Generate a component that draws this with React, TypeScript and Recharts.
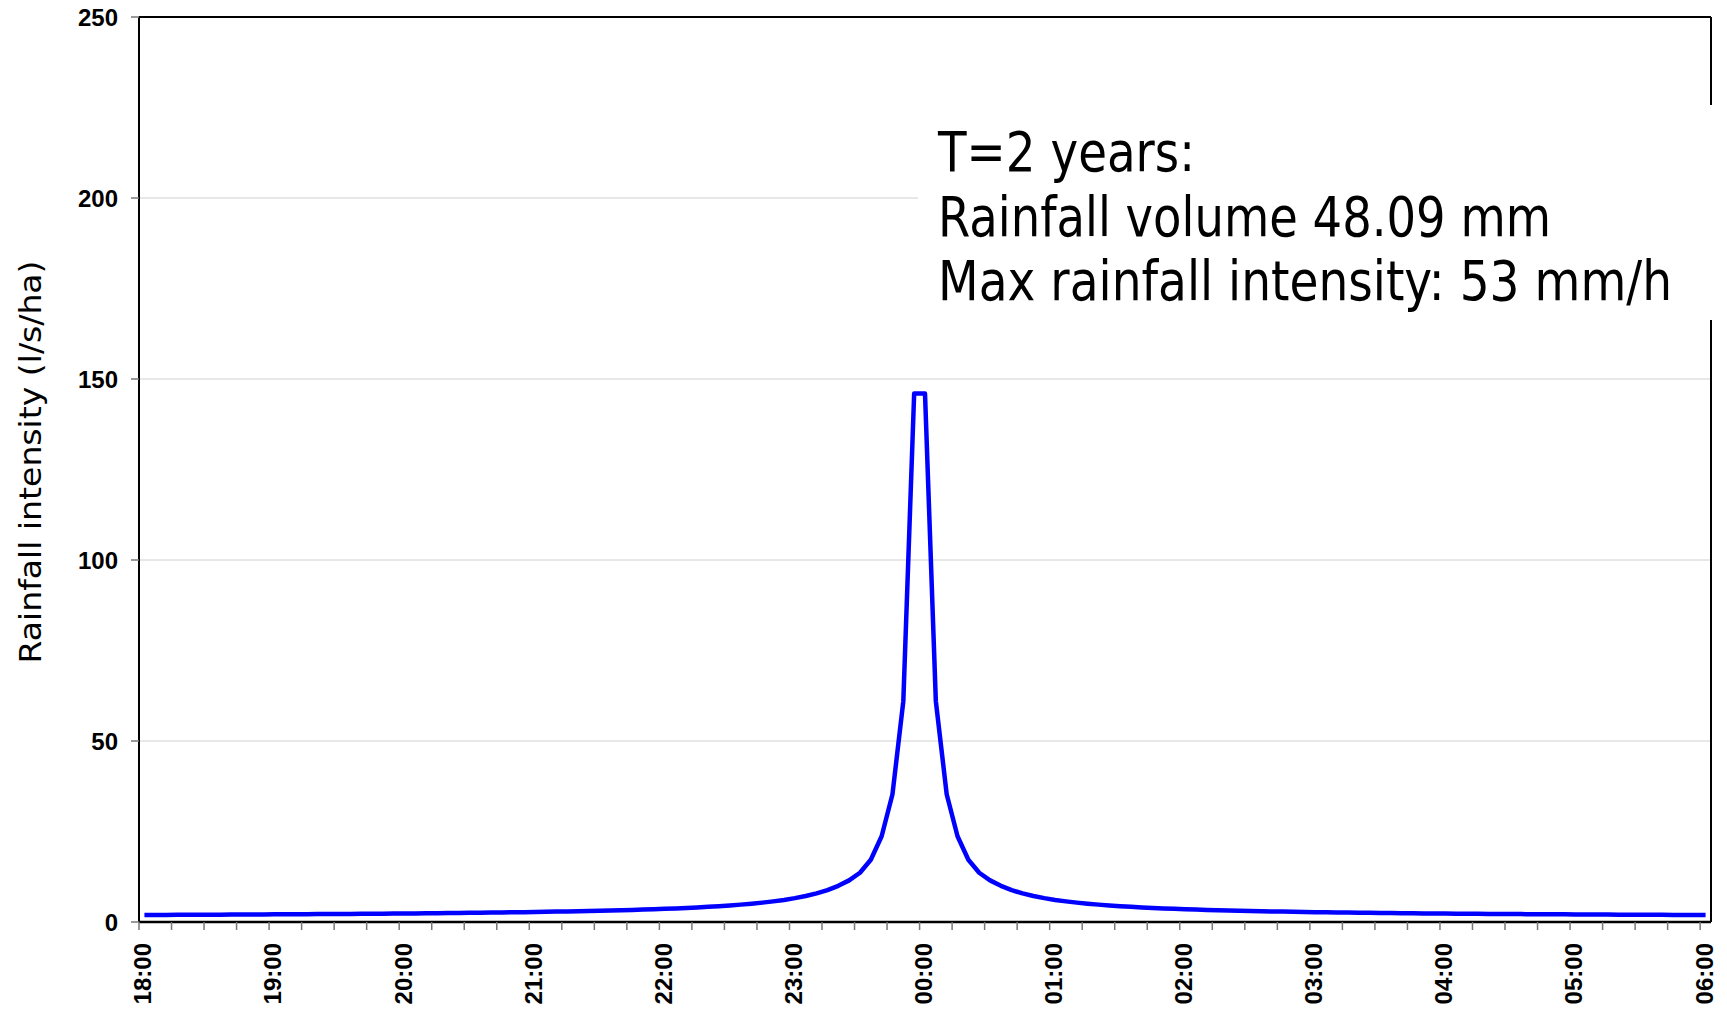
import React from 'react';
import { LineChart, Line, XAxis, YAxis, CartesianGrid, ReferenceLine } from 'recharts';

// intensita' in l/s/ha, passo 5 minuti dalle 18:00 alle 06:00
const intensityBefore = [
  1.93, 1.94, 1.96, 1.97, 1.98, 2.0, 2.01, 2.03, 2.04, 2.06, 2.07, 2.09,
  2.11, 2.12, 2.14, 2.16, 2.18, 2.2, 2.22, 2.24, 2.26, 2.28, 2.31, 2.33,
  2.36, 2.38, 2.41, 2.44, 2.47, 2.5, 2.53, 2.56, 2.6, 2.64, 2.68, 2.72,
  2.77, 2.82, 2.87, 2.92, 2.98, 3.04, 3.11, 3.18, 3.26, 3.34, 3.43, 3.53,
  3.64, 3.76, 3.89, 4.03, 4.19, 4.37, 4.57, 4.8, 5.05, 5.35, 5.7, 6.1,
  6.6, 7.2, 7.9, 8.8, 10.0, 11.5, 13.6, 17.2, 23.7, 35.3, 61.0, 146.0,
];
const intensityAfter = [
  146.0, 61.0, 35.3, 23.7, 17.2, 13.6, 11.5, 10.0, 8.8, 7.9, 7.2, 6.6,
  6.1, 5.7, 5.35, 5.05, 4.8, 4.57, 4.37, 4.19, 4.03, 3.89, 3.76, 3.64,
  3.53, 3.43, 3.34, 3.26, 3.18, 3.11, 3.04, 2.98, 2.92, 2.87, 2.82, 2.77,
  2.72, 2.68, 2.64, 2.6, 2.56, 2.53, 2.5, 2.47, 2.44, 2.41, 2.38, 2.36,
  2.33, 2.31, 2.28, 2.26, 2.24, 2.22, 2.2, 2.18, 2.16, 2.14, 2.12, 2.11,
  2.09, 2.07, 2.06, 2.04, 2.03, 2.01, 2.0, 1.98, 1.97, 1.96, 1.94, 1.93,
  1.92,
];
const hourLabels = ['18:00', '19:00', '20:00', '21:00', '22:00', '23:00', '00:00', '01:00', '02:00', '03:00', '04:00', '05:00', '06:00'];
const yTicks = [0, 50, 100, 150, 200, 250];
const infoLines = ['T=2 years:', 'Rainfall volume 48.09 mm', 'Max rainfall intensity: 53 mm/h'];
const infoWidths = [257, 613, 734];

const STEP = 5;
const intensity = [...intensityBefore, ...intensityAfter];
const data = intensity.map((v, i) => ({ min: i * STEP, v }));
const xMin = -STEP / 2;
const xMax = (intensity.length - 1) * STEP + STEP / 2;
// tacche ogni 15 minuti, sui bordi delle categorie
const xTicks = Array.from({ length: 49 }, (_, k) => xMin + k * 15);

const tickFont = { fontFamily: '"Liberation Sans", Arial, sans-serif', fontWeight: 700, fontSize: 24, fill: '#000' };
const labelFont = { fontFamily: '"DejaVu Sans", Verdana, sans-serif', fill: '#000' };

const HourTick = (props: any) => {
  const { x, y, payload } = props;
  const m = payload.value - xMin;
  if (m % 60 !== 0) return null;
  const label = hourLabels[m / 60];
  const bx = x + 12.4;
  return (
    <text x={bx} y={y} textAnchor="end" transform={`rotate(-90, ${bx}, ${y})`} style={tickFont}>
      {label}
    </text>
  );
};

export default function App() {
  return (
    <div style={{ position: 'absolute', left: 0, top: 0, width: 1727, height: 1010, background: '#fff' }}>
      <LineChart width={1727} height={1010} data={data} margin={{ top: 17, right: 16, bottom: 0, left: 0 }}>
        <CartesianGrid horizontal vertical={false} stroke="#d0d0d0" strokeWidth={1} />
        <XAxis
          dataKey="min"
          type="number"
          domain={[xMin, xMax]}
          ticks={xTicks}
          interval={0}
          height={88}
          tickSize={8}
          tickMargin={13}
          axisLine={{ stroke: '#000', strokeWidth: 2.5 }}
          tickLine={{ stroke: '#777', strokeWidth: 1.5 }}
          tick={<HourTick />}
        />
        <YAxis
          domain={[0, 250]}
          ticks={yTicks}
          interval={0}
          width={139}
          tickSize={8}
          tickMargin={13}
          axisLine={{ stroke: '#000', strokeWidth: 2 }}
          tickLine={{ stroke: '#777', strokeWidth: 1.5 }}
          tick={tickFont}
        />
        <ReferenceLine y={250} stroke="#000" strokeWidth={2} />
        <ReferenceLine x={xMax} stroke="#000" strokeWidth={2} />
        <Line
          type="linear"
          dataKey="v"
          stroke="#0000ff"
          strokeWidth={4.5}
          strokeLinejoin="round"
          dot={false}
          activeDot={false}
          isAnimationActive={false}
        />
      </LineChart>
      <svg width={1727} height={1010} style={{ position: 'absolute', left: 0, top: 0, pointerEvents: 'none' }}>
        <text
          x={41}
          y={462}
          textAnchor="middle"
          transform="rotate(-90, 41, 462)"
          textLength={403}
          lengthAdjust="spacingAndGlyphs"
          style={{ ...labelFont, fontSize: 30 }}
        >
          Rainfall intensity (l/s/ha)
        </text>
        <rect x={918} y={105} width={802} height={215} fill="#fff" />
        {infoLines.map((line, i) => (
          <text
            key={i}
            x={0}
            y={0}
            transform={`translate(938, ${171 + i * 64.5}) scale(1, 1.19)`}
            textLength={infoWidths[i]}
            lengthAdjust="spacingAndGlyphs"
            style={{ ...labelFont, fontSize: 47 }}
          >
            {line}
          </text>
        ))}
      </svg>
    </div>
  );
}
